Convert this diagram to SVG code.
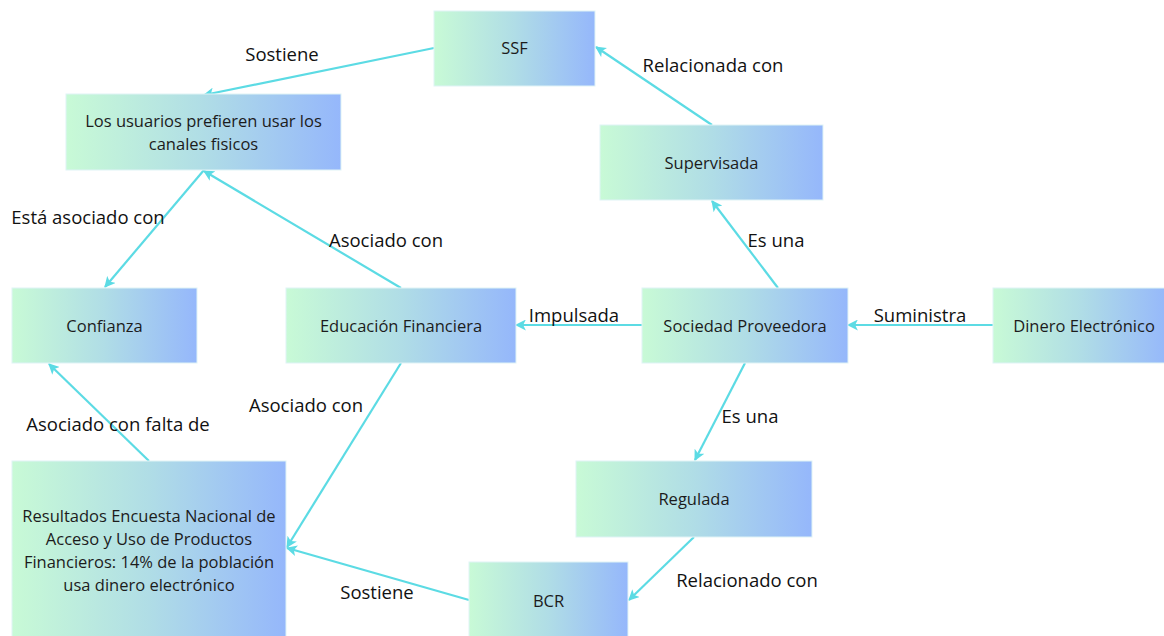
<svg xmlns="http://www.w3.org/2000/svg" width="1164" height="636" viewBox="0 0 1164 636">
<defs>
<linearGradient id="g" x1="0" y1="0" x2="1" y2="0">
<stop offset="0" stop-color="#c8fad6"/>
<stop offset="0.5" stop-color="#b0dde6"/>
<stop offset="1" stop-color="#95b7fb"/>
</linearGradient>
<marker id="a" viewBox="0 0 10 10" refX="9" refY="5" markerWidth="11" markerHeight="11" markerUnits="userSpaceOnUse" orient="auto">
<path d="M0,0 L10,5 L0,10 L2.5,5 Z" fill="#5cdbe4"/>
</marker>
<style>
.n{fill:url(#g);stroke:#dff3f6;stroke-width:1}
.t{font-family:"Open Sans","Liberation Sans",sans-serif;font-size:16.5px;fill:#1c1c1c;text-anchor:middle;dominant-baseline:central}
.l{font-family:"Open Sans","Liberation Sans",sans-serif;font-size:18.5px;fill:#111;text-anchor:middle;dominant-baseline:central}
.c{stroke:#5cdbe4;stroke-width:2.2;fill:none;marker-end:url(#a)}
</style>
</defs>
<rect width="1164" height="636" fill="#fff"/>
<g id="connectors">
<line class="c" x1="434" y1="48" x2="204" y2="95"/>
<line class="c" x1="712" y1="125" x2="596" y2="47"/>
<line class="c" x1="204" y1="170" x2="105" y2="287"/>
<line class="c" x1="401" y1="288" x2="204" y2="171"/>
<line class="c" x1="642" y1="325" x2="516" y2="325"/>
<line class="c" x1="993" y1="325" x2="848" y2="325"/>
<line class="c" x1="778" y1="288" x2="712" y2="201"/>
<line class="c" x1="745" y1="363" x2="695" y2="460"/>
<line class="c" x1="694" y1="537" x2="629" y2="600"/>
<line class="c" x1="469" y1="600" x2="287" y2="548"/>
<line class="c" x1="401" y1="363" x2="287" y2="547"/>
<line class="c" x1="149" y1="461" x2="49" y2="364"/>
<text class="l" x="282" y="53">Sostiene</text>
<text class="l" x="713" y="64">Relacionada con</text>
<text class="l" x="88" y="216">Está asociado con</text>
<text class="l" x="386" y="239">Asociado con</text>
<text class="l" x="574" y="314">Impulsada</text>
<text class="l" x="920" y="314">Suministra</text>
<text class="l" x="776" y="239">Es una</text>
<text class="l" x="750" y="415">Es una</text>
<text class="l" x="747" y="579">Relacionado con</text>
<text class="l" x="377" y="591">Sostiene</text>
<text class="l" x="306" y="404">Asociado con</text>
<text class="l" x="118" y="423">Asociado con falta de</text>
</g>
<g id="ssf"><rect class="n" x="434" y="11" width="161" height="75"/><text class="t" x="514.5" y="47.5">SSF</text></g>
<g id="usuarios"><rect class="n" x="66" y="94" width="275" height="76"/><text class="t" x="203.5" y="120">Los usuarios prefieren usar los</text><text class="t" x="203.5" y="143">canales fisicos</text></g>
<g id="supervisada"><rect class="n" x="600" y="125" width="223" height="75"/><text class="t" x="711.5" y="162">Supervisada</text></g>
<g id="confianza"><rect class="n" x="12" y="288" width="185" height="75"/><text class="t" x="104.5" y="325">Confianza</text></g>
<g id="educacion"><rect class="n" x="286" y="288" width="230" height="75"/><text class="t" x="401" y="325">Educación Financiera</text></g>
<g id="sociedad"><rect class="n" x="642" y="288" width="206" height="75"/><text class="t" x="745" y="325">Sociedad Proveedora</text></g>
<g id="dinero"><rect class="n" x="993" y="288" width="176" height="75"/><text class="t" x="1084" y="325">Dinero Electrónico</text></g>
<g id="resultados"><rect class="n" x="12" y="461" width="274" height="180"/><text class="t" x="149" y="515">Resultados Encuesta Nacional de</text><text class="t" x="149" y="538">Acceso y Uso de Productos</text><text class="t" x="149" y="561">Financieros: 14% de la población</text><text class="t" x="149" y="584">usa dinero electrónico</text></g>
<g id="regulada"><rect class="n" x="576" y="461" width="236" height="76"/><text class="t" x="694" y="498">Regulada</text></g>
<g id="bcr"><rect class="n" x="469" y="562" width="159" height="80"/><text class="t" x="548.5" y="600">BCR</text></g>
</svg>
